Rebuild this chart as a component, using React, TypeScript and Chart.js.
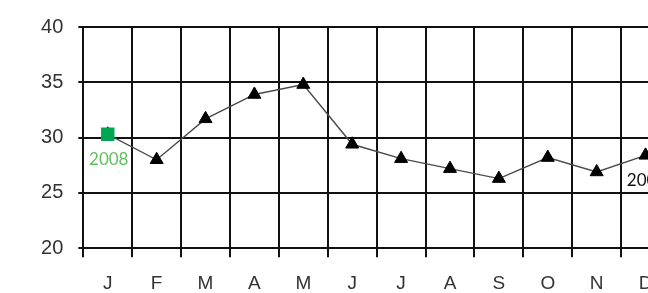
import React, { useEffect, useRef } from "react";
import { Chart, registerables } from "chart.js";

Chart.register(...registerables);

const months = ["J", "F", "M", "A", "M", "J", "J", "A", "S", "O", "N", "D"];
const values = [30.3, 28.0, 31.7, 33.9, 34.8, 29.4, 28.1, 27.2, 26.3, 28.2, 26.9, 28.4];
const highlight = [30.3, null, null, null, null, null, null, null, null, null, null, null];
const yTicks = [20, 25, 30, 35, 40];
const yearLabels = [
  { index: 0, text: "2008", color: "#5fbf5f" },
  { index: 11, text: "2009", color: "#111111" },
];

const CANVAS_W = 690;
const CANVAS_H = 293;

const yearLabelPlugin = {
  id: "yearLabels",
  afterDatasetsDraw(chart: any) {
    const meta = chart.getDatasetMeta(1);
    const ctx = chart.ctx;
    ctx.save();
    ctx.font = "17px Lato, 'Open Sans', sans-serif";
    ctx.textAlign = "center";
    ctx.textBaseline = "middle";
    yearLabels.forEach((l) => {
      const el = meta.data[l.index];
      if (!el) return;
      ctx.fillStyle = l.color;
      ctx.fillText(l.text, el.x + 1, el.y + 25);
    });
    ctx.restore();
  },
};

export default function App() {
  const ref = useRef<HTMLCanvasElement>(null);
  useEffect(() => {
    if (!ref.current) return;
    const chart = new Chart(ref.current, {
      type: "line",
      data: {
        labels: months,
        datasets: [
          {
            data: highlight,
            showLine: false,
            pointStyle: "rect",
            pointRadius: 9.5,
            pointBackgroundColor: "#00a651",
            pointBorderColor: "#00a651",
            pointBorderWidth: 0,
          },
          {
            data: values,
            borderColor: "#4a4a4a",
            borderWidth: 1.4,
            pointStyle: "triangle",
            pointRadius: 7.5,
            pointBackgroundColor: "#000",
            pointBorderColor: "#000",
            pointBorderWidth: 1,
            tension: 0,
          },
        ],
      },
      options: {
        animation: false,
        responsive: false,
        devicePixelRatio: 1,
        layout: { padding: { left: 0, top: 26, right: 20, bottom: 0 } },
        plugins: { legend: { display: false }, tooltip: { enabled: false } },
        scales: {
          x: {
            offset: true,
            grid: { offset: true, color: "#111", lineWidth: 2, tickLength: 9 },
            border: { color: "#111", width: 2 },
            ticks: {
              color: "#333",
              padding: 15,
              font: { family: "'Liberation Sans', Arial, sans-serif", size: 19 },
              maxRotation: 0,
              autoSkip: false,
            },
            afterFit(scale: any) {
              scale.height = CANVAS_H - 248.3;
            },
          },
          y: {
            min: 20,
            max: 40,
            afterBuildTicks(scale: any) {
              scale.ticks = yTicks.map((v) => ({ value: v }));
            },
            grid: { color: "#111", lineWidth: 2, tickLength: 5 },
            border: { color: "#111", width: 2 },
            ticks: {
              color: "#333",
              padding: 15,
              font: { family: "'Liberation Sans', Arial, sans-serif", size: 20 },
            },
            afterFit(scale: any) {
              scale.width = 83.3;
            },
          },
        },
      },
      plugins: [yearLabelPlugin],
    });
    return () => chart.destroy();
  }, []);

  return (
    <div
      style={{
        position: "fixed",
        left: 0,
        top: 0,
        width: 648,
        height: 293,
        overflow: "hidden",
        background: "#fff",
      }}
    >
      <canvas
        ref={ref}
        width={CANVAS_W}
        height={CANVAS_H}
        style={{ display: "block", width: CANVAS_W, height: CANVAS_H }}
      />
    </div>
  );
}
